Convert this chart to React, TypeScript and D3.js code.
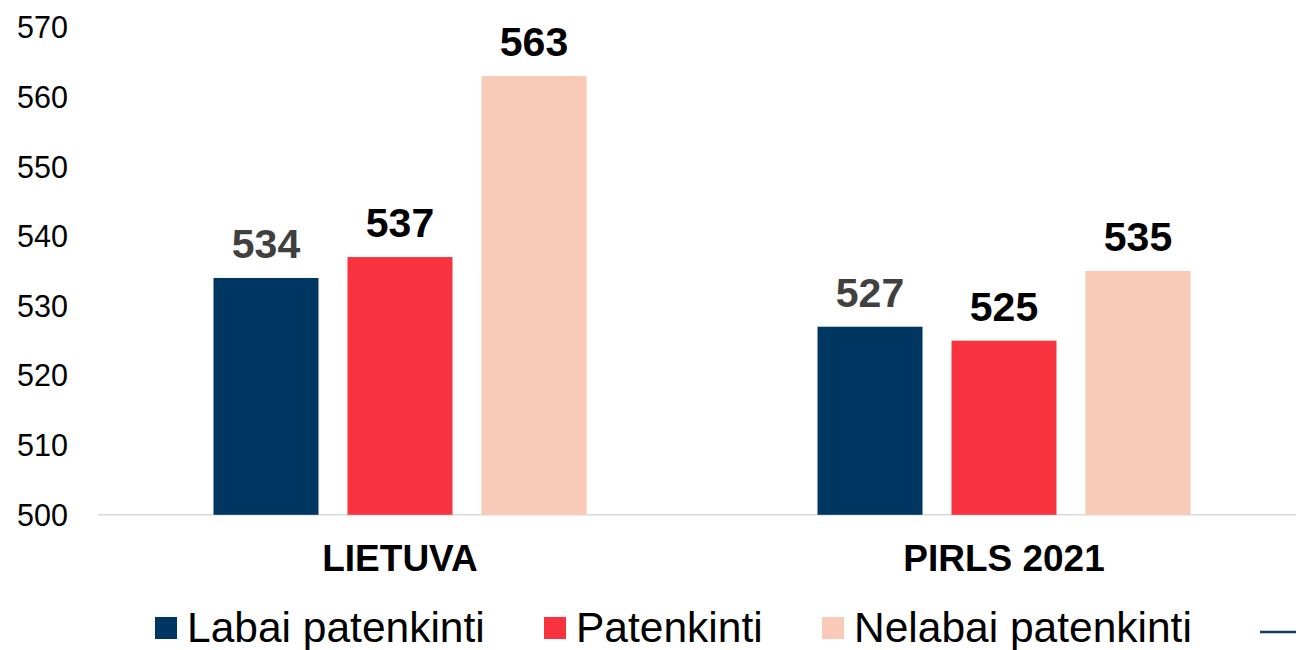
import React from "react";
import * as d3 from "d3";

const categories = ["LIETUVA", "PIRLS 2021"];
const seriesNames = ["Labai patenkinti", "Patenkinti", "Nelabai patenkinti"];
const labaiPatenkinti = [534, 527];
const patenkinti = [537, 525];
const nelabaiPatenkinti = [563, 535];
const yTicks = [500, 510, 520, 530, 540, 550, 560, 570];

const colors = ["#003662", "#F8333F", "#F9CAB8"];
const labelColors = ["#404040", "#000000", "#000000"];
const FONT = "Arial, 'Liberation Sans', sans-serif";

export default function App() {
  const W = 1296, H = 650;
  const series = [labaiPatenkinti, patenkinti, nelabaiPatenkinti];
  const y = d3.scaleLinear().domain([500, 570]).range([514.8, 27.2]);
  const x0 = d3.scaleBand<string>().domain(categories).range([98, 1306]).paddingInner(0).paddingOuter(0);
  const barW = 105, gap = 29;
  const x1 = d3.scaleBand<string>().domain(seriesNames).range([0, 3 * barW + 2 * gap]).paddingInner(gap / (barW + gap)).paddingOuter(0);
  const groupW = 3 * barW + 2 * gap;

  const legendItems = [
    { name: seriesNames[0], sx: 155, tx: 187 },
    { name: seriesNames[1], sx: 544, tx: 576 },
    { name: seriesNames[2], sx: 822, tx: 854 },
  ];

  return (
    <svg width={W} height={H} style={{ position: "absolute", left: 0, top: 0, background: "#fff" }} fontFamily={FONT}>
      {yTicks.map((t) => (
        <text key={t} x={68} y={y(t) + 11} textAnchor="end" fontSize={30.5} fill="#000">{t}</text>
      ))}
      <line x1={98} x2={1296} y1={y(500)} y2={y(500)} stroke="#D9D9D9" strokeWidth={1.5} />
      {categories.map((c, ci) => {
        const gx = x0(c)! + x0.bandwidth() / 2 - groupW / 2;
        return (
          <g key={c}>
            {series.map((s, si) => {
              const bx = gx + x1(seriesNames[si])!;
              const v = s[ci];
              return (
                <g key={si}>
                  <rect x={bx} y={y(v)} width={x1.bandwidth()} height={y(500) - y(v)} fill={colors[si]} />
                  <text x={bx + x1.bandwidth() / 2} y={y(v) - 20} textAnchor="middle" fontSize={41} fontWeight="bold" fill={labelColors[si]}>{v}</text>
                </g>
              );
            })}
            <text x={x0(c)! + x0.bandwidth() / 2} y={571} textAnchor="middle" fontSize={37} fontWeight="bold" fill="#000">{c}</text>
          </g>
        );
      })}
      {legendItems.map((l, i) => (
        <g key={l.name}>
          <rect x={l.sx} y={617} width={22} height={22} fill={colors[i]} />
          <text x={l.tx} y={642} fontSize={42.5} fill="#000">{l.name}</text>
        </g>
      ))}
      <line x1={1260} x2={1296} y1={632} y2={632} stroke="#1F3864" strokeWidth={2.5} />
    </svg>
  );
}
